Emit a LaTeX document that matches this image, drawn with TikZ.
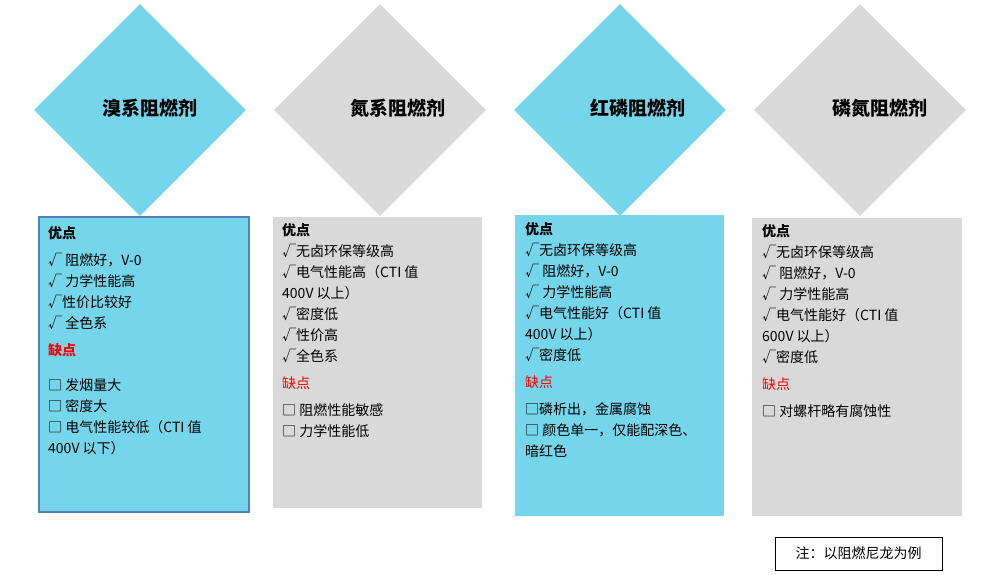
\documentclass[tikz,border=0pt]{standalone}
\usepackage{fontspec}
\setmainfont{Noto Sans CJK SC}
\usetikzlibrary{shapes.geometric}
\definecolor{cy}{HTML}{75D5EA}
\definecolor{gr}{HTML}{D9D9D9}
\definecolor{bl}{HTML}{4F81BD}
\begin{document}
\begin{tikzpicture}[x=1pt,y=-1pt,
 dia/.style={diamond,minimum width=212pt,minimum height=212pt,inner sep=0pt},
 ttl/.style={font=\fontsize{19}{22}\selectfont\bfseries},
 txt/.style={anchor=north west,align=left,font=\fontsize{14}{21}\selectfont,inner sep=0pt}]
\useasboundingbox (0,0) rectangle (1001,575);
\node[dia,fill=cy] (d1) at (140,110) {};
\node[dia,fill=gr] (d2) at (380,110) {};
\node[dia,fill=cy] (d3) at (620,110) {};
\node[dia,fill=gr] (d4) at (860,110) {};
\node[ttl] (t1) at (150,108) {溴系阻燃剂};
\node[ttl] (t2) at (398,108) {氮系阻燃剂};
\node[ttl] (t3) at (638,108) {红磷阻燃剂};
\node[ttl] (t4) at (880,108) {磷氮阻燃剂};
\fill[cy] (39,217) rectangle (249,512);
\draw[bl,line width=2pt] (39,217) rectangle (249,512);
\fill[gr] (273,217) rectangle (482,508);
\fill[cy] (515,215) rectangle (724,516);
\fill[gr] (752,218) rectangle (962,516);
\node[txt] (b1) at (48,226) {\textbf{优点}\\[6pt] √ 阻燃好，V-0\\ √ 力学性能高\\ √性价比较好\\ √ 全色系\\[6pt] \textcolor{red}{\textbf{缺点}}\\[14pt] □ 发烟量大\\ □ 密度大\\ □ 电气性能较低（CTI 值\\ 400V 以下）};
\node[txt] (b2) at (282,223) {\textbf{优点}\\ √无卤环保等级高\\ √电气性能高（CTI 值\\ 400V 以上）\\ √密度低\\ √性价高\\ √全色系\\[6pt] \textcolor{red}{缺点}\\[6pt] □ 阻燃性能敏感\\ □ 力学性能低};
\node[txt] (b3) at (525,222) {\textbf{优点}\\ √无卤环保等级高\\ √ 阻燃好，V-0\\ √ 力学性能高\\ √电气性能好（CTI 值\\ 400V 以上）\\ √密度低\\[6pt] \textcolor{red}{缺点}\\[6pt] □磷析出，金属腐蚀\\ □ 颜色单一，仅能配深色、\\ 暗红色};
\node[txt] (b4) at (762,224) {\textbf{优点}\\ √无卤环保等级高\\ √ 阻燃好，V-0\\ √ 力学性能高\\ √电气性能好（CTI 值\\ 600V 以上）\\ √密度低\\[6pt] \textcolor{red}{缺点}\\[6pt] □ 对螺杆略有腐蚀性};
\node[draw,minimum width=167pt,minimum height=33pt,font=\fontsize{14}{17}\selectfont] (n) at (858.5,553.5) {注：以阻燃尼龙为例};
\end{tikzpicture}
\end{document}
